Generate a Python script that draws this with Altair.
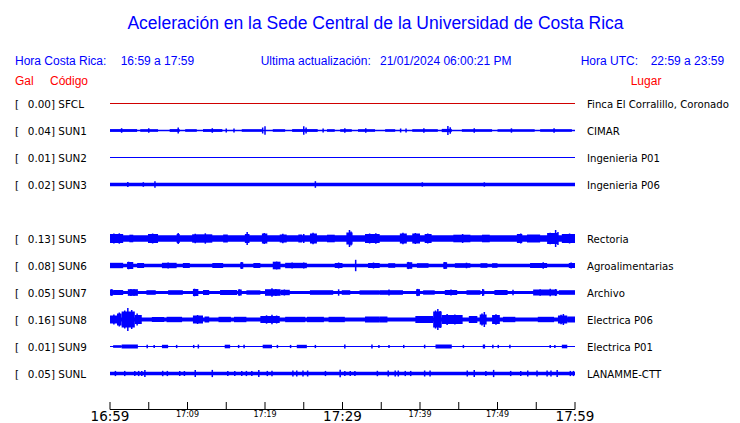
import altair as alt
import pandas as pd

# ---------------- data ----------------
codes = ["SFCL", "SUN1", "SUN2", "SUN3", "SUN5", "SUN6", "SUN7", "SUN8", "SUN9", "SUNL"]
rows = [0, 1, 2, 3, 5, 6, 7, 8, 9, 10]
gal = ["0.00", "0.04", "0.01", "0.02", "0.13", "0.08", "0.05", "0.16", "0.01", "0.05"]
places = ["Finca El Corralillo, Coronado", "CIMAR", "Ingenieria P01", "Ingenieria P06",
          "Rectoria", "Agroalimentarias", "Archivo", "Electrica P06", "Electrica P01",
          "LANAMME-CTT"]
# background noise level of each trace (display amplitude)
base_amp = [0.5, 0.7, 0.5, 1.7, 3.2, 1.7, 1.6, 2.0, 0.6, 1.7]

# sustained bursts: (start minute, end minute, amplitude)
bursts = {
    "SUN1": [(0, 3.5, 1.4), (3.9, 6.2, 1.3), (7.7, 9, 1.4), (9.7, 11.2, 1.3), (12, 14.5, 1.4),
             (17, 19.6, 1.3), (21, 22.6, 1.3), (23.5, 26.8, 1.4), (28, 29, 1.3), (29.7, 31.2, 1.3),
             (32, 34.2, 1.3), (35.5, 36.8, 1.3), (39, 42.3, 1.3), (42.8, 44.1, 1.6),
             (45.4, 49.3, 1.3), (50, 54.8, 1.3), (55.5, 59.6, 1.3)],
    "SUN5": [(0, 1.7, 4.5), (2.5, 3, 3.8), (4.9, 6.2, 4.5), (8.6, 9.0, 4.5), (10.6, 13.2, 4.2),
             (14.6, 15.2, 4), (17.4, 18, 4.5), (19.6, 20.3, 5), (21.9, 22.8, 4), (24.3, 24.8, 4),
             (25.8, 26.7, 5), (28, 29, 3.8), (30.5, 31.3, 6), (32.9, 34.8, 4.5), (37.4, 38.3, 5),
             (39, 40, 5), (40.6, 41.5, 4.5), (44.3, 46.5, 3.8), (48, 49, 3.8), (52.5, 53.2, 4.5),
             (53.8, 55.5, 4), (56.4, 57.8, 5.5), (58.3, 60, 4.5)],
    "SUN6": [(0, 1.7, 2.7), (2.2, 3, 3.5), (3.5, 4.4, 2.5), (6.7, 8.6, 2.7), (9.4, 10.3, 2.5),
             (13.2, 14.6, 2.5), (16.8, 17.2, 3.2), (18.5, 19.4, 2.5), (21, 22, 3.8),
             (22.6, 25.4, 2.7), (29, 30, 2.5), (33.3, 34.8, 2.5), (35.9, 36.8, 2.3), (38.3, 39, 3.3),
             (39.6, 41.1, 2.3), (43, 43.5, 3.3), (44.5, 46.5, 2.3), (47.8, 48.7, 2.3),
             (49.3, 50, 2.3), (54.2, 56.4, 2.5), (59.2, 60, 2.5)],
    "SUN7": [(0, 0.4, 3), (0.4, 1.7, 2.5), (2.3, 3.6, 3.3), (4.7, 5.9, 2.3), (7.5, 9.4, 2.3),
             (10.7, 11.4, 3.5), (12, 12.8, 2.5), (14.2, 16.4, 2.5), (16.5, 17, 3), (17.6, 19.4, 2.2),
             (20, 22, 3.3), (22, 23.2, 2.7), (25.8, 28.8, 2.3), (29.9, 31, 2.3), (32.2, 34.8, 2.2),
             (34.8, 37.8, 2.3), (39.5, 40, 3.3), (40.4, 41.9, 2.2), (43.2, 44.8, 2.5),
             (46, 47.8, 2.3), (48, 48.3, 3), (49.6, 51.3, 2.5), (54.6, 57.7, 3), (57.9, 60, 2.3)],
    "SUN8": [(0, 0.9, 4), (0.9, 1.5, 6), (1.5, 3.2, 8), (3.2, 4.1, 4.5), (5.4, 7, 2.5),
             (7.3, 9.3, 2.7), (10.7, 12, 4), (12.2, 12.8, 3), (14, 15.6, 2.7), (16, 17.6, 2.7),
             (19.4, 21.9, 3.5), (22.6, 25.2, 2.7), (25.4, 27.6, 2.7), (28.2, 30.3, 2.7),
             (32.9, 34.8, 3), (34.8, 35.8, 3), (39.4, 41.7, 3.5), (41.7, 42.8, 8), (42.8, 45.5, 4.5),
             (46.3, 47.4, 3.5), (47.7, 48.6, 5), (49.3, 50.3, 4.5), (50.7, 52.3, 2.7),
             (55.2, 57.3, 2.7), (57.8, 59, 4), (59, 60, 3)],
    "SUN9": [(0.4, 1.5, 1.3), (1.5, 3.6, 2), (6.7, 7.5, 1.7), (14.8, 15.5, 1.8), (19.7, 20.9, 1.8),
             (24.1, 25.4, 1.7), (42, 44.1, 2), (48.1, 48.4, 2), (58.3, 59, 1.8)],
}

# short spikes: (minute, amplitude)
spikes = {
    "SUN1": [(8.8, 3), (20, 4.2), (19.7, 3), (25, 4.2), (25.3, 3), (43.6, 4.5), (43.9, 3.2),
             (1.5, 2.3), (5, 2.2), (13.2, 2.3), (30.3, 2.3), (33, 2.2), (40.5, 2.3), (47, 2.3),
             (51.8, 2.2), (57.3, 2.3), (15, 2), (16, 2), (27.5, 2), (37.5, 2), (38.2, 2)],
    "SUN3": [(2.3, 2.4), (4.3, 2.3), (5.8, 3.3), (26.5, 3.3), (40.3, 2.2), (48.3, 2.2)],
    "SUN5": [(0.5, 5), (1.2, 5.2), (5.5, 5), (8.8, 5.5), (11, 4.8), (12.3, 5.2), (17.7, 6.5),
             (19.9, 5.5), (22.3, 4.8), (25, 4.6), (26.2, 5.8), (30.9, 8.5), (31.1, 7), (33.5, 5),
             (34.3, 5.2), (37.8, 5.8), (39.4, 5.5), (41, 5), (45.5, 4.5), (53, 5), (56.8, 5.8),
             (57.5, 8.5), (57.8, 6.5), (59.3, 5)],
    "SUN6": [(2.4, 3.8), (2.8, 3.5), (7.5, 3), (17, 3.4), (21.5, 3.9), (23.5, 3), (25, 3),
             (29.5, 3), (31.7, 5.7), (34, 3), (38.5, 3.6), (43.2, 3.6), (46, 2.8), (55.9, 3.2),
             (59.5, 3)],
    "SUN7": [(0.2, 3.3), (2.7, 3.5), (3.1, 3.3), (10.9, 3.8), (11.2, 3.3), (16.7, 3.2), (20.9, 4.2),
             (21.4, 3.5), (22.5, 3), (29.5, 3.2), (36, 3), (39.7, 3.6), (44, 3), (48.1, 3.4),
             (52, 2.8), (55.5, 3.3), (56.8, 3.8), (57.5, 3.5)],
    "SUN8": [(0.5, 5), (1.2, 7), (1.9, 9), (2.3, 11.5), (2.8, 9.5), (3.5, 6), (11.3, 4.5),
             (20.9, 4.7), (20.2, 4.2), (21.5, 4), (42.3, 10.5), (42.0, 9), (42.6, 8.5), (43.5, 5.5),
             (44.5, 5), (48.3, 7.5), (48, 6), (49.8, 5.2), (58.5, 5.5), (58.2, 4.8)],
    "SUN9": [(4.8, 1.8), (5.7, 1.6), (8.6, 1.6), (10.8, 1.6), (11.4, 2), (16.6, 1.6), (17.3, 1.8),
             (21.6, 1.6), (23.3, 1.6), (26.5, 1.6), (30.3, 1.9), (33.8, 1.9), (34.7, 1.6), (36, 1.6),
             (37.9, 1.6), (40.6, 1.8), (45.6, 1.6), (49.4, 1.8), (50.1, 1.6), (51.6, 1.7),
             (56.8, 1.6), (57.4, 1.6)],
    "SUNL": [(4.5, 3.6), (11, 3.6), (13.2, 3.6), (19.2, 3.6), (29.7, 3.8), (47, 3.6), (49.5, 3.6),
             (57.7, 3.6), (0.7, 2.6), (1.9, 2.6), (3.2, 2.6), (3.7, 2.6), (4.1, 2.6), (6.8, 2.7),
             (7.4, 2.6), (9, 2.5), (9.6, 2.5), (15.2, 2.6), (16.1, 2.6), (17, 2.6), (17.6, 2.6),
             (18.3, 2.6), (20.3, 2.6), (20.9, 2.7), (23.6, 3), (24.1, 3), (24.9, 3), (25.5, 3),
             (27.8, 2.6), (30.3, 2.6), (31, 2.6), (31.6, 2.6), (34.5, 2.7), (35.9, 3), (36.8, 3),
             (37.2, 3), (38.1, 2.6), (38.8, 2.6), (40.6, 3), (41.3, 3), (46.1, 3), (48.5, 2.6),
             (51.7, 2.6), (53, 2.6), (53.9, 3), (55.1, 3), (56.4, 3), (56.9, 3), (59.4, 2.6),
             (59.8, 2.6)],
}

tick_minutes = list(range(0, 61, 5))
label_minutes = [0, 10, 20, 30, 40, 50, 60]
label_texts = ["16:59", "17:09", "17:19", "17:29", "17:39", "17:49", "17:59"]
major_minutes = [0, 30, 60]

# ---------------- tables ----------------
GAIN = 1.0 / 27.0  # display amplitude -> row units
row_of = dict(zip(codes, rows))

band_recs = []
for c, r, a in zip(codes, rows, base_amp):
    band_recs.append(dict(code=c, t0=0, t1=60, lo=r - a * GAIN, hi=r + a * GAIN))
for c, lst in bursts.items():
    r = row_of[c]
    for t0, t1, a in lst:
        band_recs.append(dict(code=c, t0=t0, t1=t1, lo=r - a * GAIN, hi=r + a * GAIN))
bands = pd.DataFrame(band_recs)

spike_recs = []
for c, lst in spikes.items():
    r = row_of[c]
    for t, a in lst:
        spike_recs.append(dict(code=c, t=t, lo=r - a * GAIN, hi=r + a * GAIN))
spk = pd.DataFrame(spike_recs)

labels = pd.DataFrame(dict(code=codes, row=rows, galtxt=[g + "]" for g in gal], place=places))
ticks = pd.DataFrame(dict(t=tick_minutes))
tlabels = pd.DataFrame(dict(t=label_minutes, txt=label_texts))
tlabels["major"] = tlabels["t"].isin(major_minutes)
axis_df = pd.DataFrame(dict(t0=[0], t1=[60]))

# ---------------- scales ----------------
xs = alt.Scale(domain=[0, 60], range=[102, 567], nice=False, zero=False)
ys = alt.Scale(domain=[0, 10], range=[95.5, 365.5], nice=False, zero=False)

BLUE = "#0000ff"
RED = "#ff0000"
TRACE_RED = "#d00000"
color_rule = alt.condition("datum.code == 'SFCL'", alt.value(TRACE_RED), alt.value(BLUE))

band_layer = alt.Chart(bands).mark_rect(strokeWidth=0).encode(
    x=alt.X("t0:Q", scale=xs, axis=None), x2="t1:Q",
    y=alt.Y("lo:Q", scale=ys, axis=None), y2="hi:Q",
    color=color_rule,
)
spike_layer = alt.Chart(spk).mark_rule(strokeWidth=1.5).encode(
    x=alt.X("t:Q", scale=xs, axis=None),
    y=alt.Y("lo:Q", scale=ys, axis=None), y2="hi:Q",
    color=color_rule,
)

LFONT = "DejaVu Sans"
LSIZE = 10.4
PSIZE = 10.15
bracket = alt.Chart(labels).mark_text(font=LFONT, fontSize=LSIZE, align="left", baseline="alphabetic",
                                      dy=4.0, color="black").encode(
    x=alt.value(7), y=alt.Y("row:Q", scale=ys, axis=None), text=alt.value("["))
galval = alt.Chart(labels).mark_text(font=LFONT, fontSize=LSIZE, align="right", baseline="alphabetic",
                                     dy=4.0, color="black").encode(
    x=alt.value(47), y=alt.Y("row:Q", scale=ys, axis=None), text="galtxt:N")
codetxt = alt.Chart(labels).mark_text(font=LFONT, fontSize=LSIZE, align="left", baseline="alphabetic",
                                      dy=4.0, color="black").encode(
    x=alt.value(50.3), y=alt.Y("row:Q", scale=ys, axis=None), text="code:N")
placetxt = alt.Chart(labels).mark_text(font=LFONT, fontSize=PSIZE, align="left", baseline="alphabetic",
                                       dy=4.0, color="black").encode(
    x=alt.value(579), y=alt.Y("row:Q", scale=ys, axis=None), text="place:N")

axis_line = alt.Chart(axis_df).mark_rule(color="black", strokeWidth=1).encode(
    x=alt.X("t0:Q", scale=xs, axis=None), x2="t1:Q", y=alt.value(401.5))
tick_marks = alt.Chart(ticks).mark_rule(color="black", strokeWidth=1).encode(
    x=alt.X("t:Q", scale=xs, axis=None), y=alt.value(394), y2=alt.value(401.5))
major_lbl = alt.Chart(tlabels).transform_filter("datum.major").mark_text(
    font=LFONT, fontSize=13.5, align="center", baseline="alphabetic", color="black").encode(
    x=alt.X("t:Q", scale=xs, axis=None), y=alt.value(413), text="txt:N")
minor_lbl = alt.Chart(tlabels).transform_filter("!datum.major").mark_text(
    font=LFONT, fontSize=8, align="center", baseline="alphabetic", color="black").encode(
    x=alt.X("t:Q", scale=xs, axis=None), y=alt.value(409), text="txt:N")

HFONT = "Liberation Sans"


def htext(txt, x, y, size=12, color=BLUE, align="left"):
    return alt.Chart().mark_text(font=HFONT, fontSize=size, align=align, baseline="alphabetic",
                                 color=color).encode(x=alt.value(x), y=alt.value(y),
                                                     text=alt.value(txt))


headers = [
    htext("Aceleración en la Sede Central de la Universidad de Costa Rica", 367.5, 20.5, 17.5,
          align="center"),
    htext("Hora Costa Rica:", 7, 56.6),
    htext("16:59 a 17:59", 112.7, 56.6),
    htext("Ultima actualización:", 252.7, 56.6),
    htext("21/01/2024 06:00:21 PM", 372, 56.6),
    htext("Hora UTC:", 572.7, 56.6),
    htext("22:59 a 23:59", 642.7, 56.6),
    htext("Gal", 7, 77, color=RED),
    htext("Código", 42, 77, color=RED),
    htext("Lugar", 622.7, 76.5, color=RED),
]

chart = alt.layer(
    band_layer, spike_layer, bracket, galval, codetxt, placetxt,
    axis_line, tick_marks, major_lbl, minor_lbl, *headers
).properties(
    width=724, height=415, padding=0,
    autosize=alt.AutoSizeParams(type="none"),
    background="white",
).configure_view(stroke=None)

chart.save("out.html", embed_options={"renderer": "svg", "actions": False})
